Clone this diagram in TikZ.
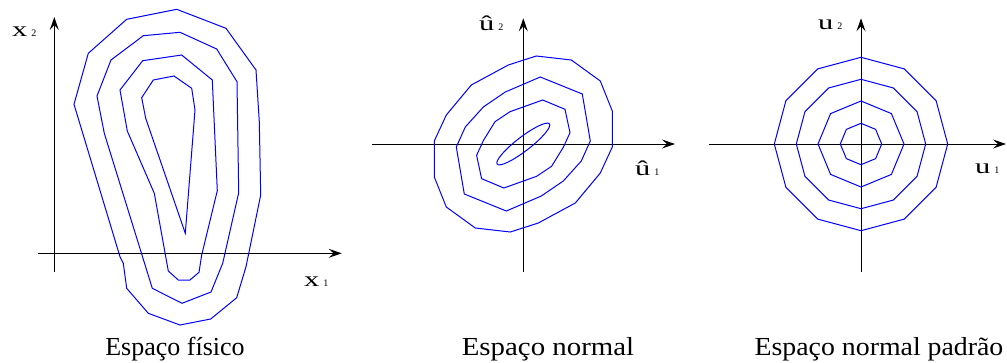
\documentclass[tikz,border=0pt]{standalone}
\usepackage{fontspec}
\setmainfont{Liberation Serif}
\usetikzlibrary{arrows.meta}
\tikzset{
	every node/.style = {inner sep=0pt}
}
\tikzset{
	contour/.style = {blue, line width=1pt, line join=miter},
	axisline/.style = {black, line width=1pt, -{Stealth[length=13pt,width=9pt,inset=5pt]}},
	axlab/.style = {anchor=base west, font=\fontsize{21}{21}\selectfont},
	caption/.style = {anchor=base, font=\fontsize{26}{30}\selectfont}
}
% stretched axis letter with its small index
\newcommand{\axname}[2]{\scalebox{1.45}[1]{#1}\hspace{4pt}{\fontsize{10}{10}\selectfont #2}}

\begin{document}
\begin{tikzpicture}[x=1pt,y=-1pt]
        \useasboundingbox (0,0) rectangle (1007,362);

        % Physical space
        \draw[axisline] (54.3,271.7) -- (54.3,17);
        \draw[axisline] (37.7,253.3) -- (341.7,253.3);
        \node[axlab] (xtwo) at (12,36.7) {\axname{x}{2}};
        \node[axlab] (xone) at (304,286) {\axname{x}{1}};

        \draw[contour] (176.7,9.3) -- (126.7,19.3) -- (88.3,53.3) -- (74,104.3) -- (120,256.7)
            -- (123.3,263.3) -- (126.7,288.3) -- (148.3,313.3) -- (180,325) -- (210.7,319)
            -- (236.7,297.7) -- (246,266.7) -- (260.7,195) -- (259.3,121.7) -- (256,70)
            -- (226,28.3) -- cycle;
        \draw[contour] (180,32.3) -- (143.3,35.7) -- (111,60) -- (97,96) -- (104.3,133.3)
            -- (152.3,288.3) -- (182,303.3) -- (211,292) -- (222.7,263.3) -- (238.7,192.7)
            -- (237,81.7) -- (216.7,49) -- cycle;
        \draw[contour] (142.7,60.7) -- (181.7,55) -- (212.3,80) -- (217.3,190.7) -- (201.7,255)
            -- (199,272.3) -- (190,280) -- (178.3,280) -- (168.3,271) -- (154.3,193.3)
            -- (127.3,131) -- (120,90) -- cycle;
        \draw[contour] (153.3,80) -- (174,76) -- (191.7,88.3) -- (195,110) -- (185.3,233.3)
            -- (145.7,118.3) -- (141.7,97.7) -- cycle;

        \node[caption] (fisico) at (175,355) {Espaço físico};

        % Normal space
        \draw[axisline] (523.3,271.7) -- (523.3,18.3);
        \draw[axisline] (371.7,144) -- (675,144);
        \node[axlab] (uhtwo) at (479,30) {\axname{û}{2}};
        \node[axlab] (uhone) at (635,175) {\axname{û}{1}};

        \begin{scope}[shift={(523.3,144)}]
            \draw[contour] (89,3) -- (89,-33) -- (77,-63) -- (48,-84) -- (13,-88) -- (-15,-79)
                -- (-52,-59) -- (-77,-29) -- (-89,-3) -- (-89,33) -- (-77,63) -- (-48,84)
                -- (-13,88) -- (15,79) -- (52,59) -- (77,29) -- cycle;
            \draw[contour] (67,-3) -- (59,-50) -- (17,-67) -- (-18,-52) -- (-40,-37) -- (-58,-17)
                -- (-67,3) -- (-59,50) -- (-17,67) -- (18,52) -- (40,37) -- (58,17) -- cycle;
            \draw[contour] (46.7,-11.3) -- (41.7,-34.7) -- (19.4,-44) -- (-13.3,-32.3) -- (-28.3,-22.3)
                -- (-40,-3.3) -- (-46.7,11.3) -- (-41.7,34.7) -- (-19.4,44) -- (13.3,32.3)
                -- (28.3,22.3) -- (40,3.3) -- cycle;
            \draw[contour, rotate=37.6] (0,0) ellipse (33 and 7);
        \end{scope}

        \node[caption] (normal) at (548,355) {\scalebox{1.11}[1]{Espaço normal}};

        % Standard normal space
        \draw[axisline] (861,271.7) -- (861,18.3);
        \draw[axisline] (709.3,144) -- (1006,144);
        \node[axlab] (utwo) at (818,29.3) {\axname{u}{2}};
        \node[axlab] (uone) at (975,173) {\axname{u}{1}};

        \begin{scope}[shift={(861,144)}]
            \foreach \rad/\nv in {20.7/8, 43/8, 64.7/12, 86.7/12}{
                \draw[contour] (0:\rad) \foreach \k in {1,...,\nv}{ -- ({\k*360/\nv}:\rad) } -- cycle;
            }
        \end{scope}

        \node[caption] (padrao) at (879,355) {\scalebox{1.07}[1]{Espaço normal padrão}};
\end{tikzpicture}
\end{document}
